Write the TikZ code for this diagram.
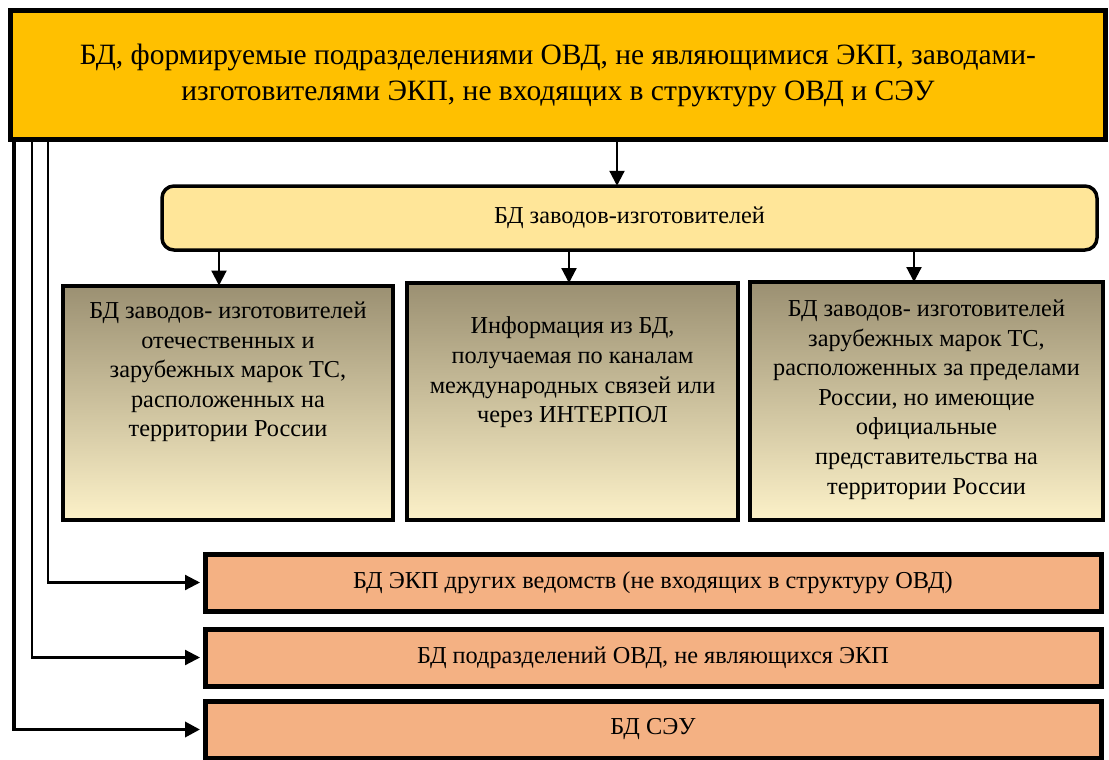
\documentclass[tikz,border=0pt]{standalone}
\usepackage{fontspec}
\newfontfamily\rufont{Liberation Serif}
\usetikzlibrary{arrows.meta}

\definecolor{topfill}{HTML}{FFC000}
\definecolor{midfill}{HTML}{FFE699}
\definecolor{bdfill}{HTML}{F4B183}
\definecolor{gradtop}{HTML}{9B9072}
\definecolor{gradbot}{HTML}{FCF1C8}

\tikzset{
  box/.style={draw, line width=4.5pt, inner sep=0pt, align=center},
  topbox/.style={box, line width=5pt, fill=topfill, minimum width=1095pt, minimum height=129pt,
    font=\rufont\fontsize{29.5}{36}\selectfont},
  midbox/.style={box, line width=3.5pt, rounded corners=12pt, fill=midfill,
    minimum width=935pt, minimum height=64pt, font=\rufont\fontsize{24.3}{29.5}\selectfont},
  gradbox/.style={box, line width=4pt, top color=gradtop, bottom color=gradbot},
  gradtxt/.style={align=center, inner sep=0pt, font=\rufont\fontsize{24.3}{29.6}\selectfont},
  bdbox/.style={box, line width=5pt, fill=bdfill, minimum width=896pt, minimum height=57pt,
    font=\rufont\fontsize{24.3}{29.5}\selectfont},
  arr/.style={line width=2.2pt, -{Triangle[length=15pt,width=15pt]}}
}

\begin{document}
\begin{tikzpicture}[x=1pt, y=-1pt]
  \useasboundingbox (0,0) rectangle (1109,760);

  \node[topbox] (top) at (558,75) {БД, формируемые подразделениями ОВД, не являющимися ЭКП, заводами-\\
    изготовителями ЭКП, не входящих в структуру ОВД и СЭУ};
  \node[midbox] (mid) at (629.5,218) {БД заводов-изготовителей};

  % three gradient boxes
  \node[gradbox, minimum width=330pt, minimum height=234pt] (A) at (228,402.5) {};
  \node[gradbox, minimum width=331pt, minimum height=237pt] (B) at (572.5,401.5) {};
  \node[gradbox, minimum width=353pt, minimum height=238pt] (C) at (926.5,401) {};
  \node[gradtxt] (At) at (228,372) {БД заводов- изготовителей\\ отечественных и\\
    зарубежных марок ТС,\\ расположенных на\\ территории России};
  \node[gradtxt] (Bt) at (572.5,372.5) {Информация из БД,\\ получаемая по каналам\\
    международных связей или\\ через ИНТЕРПОЛ};
  \node[gradtxt] (Ct) at (926.5,399.5) {БД заводов- изготовителей\\ зарубежных марок ТС,\\
    расположенных за пределами\\ России, но имеющие\\ официальные\\
    представительства на\\ территории России};

  \node[bdbox] (ekp) at (653,582.5) {БД ЭКП других ведомств (не входящих в структуру ОВД)};
  \node[bdbox] (ovd) at (653,657.5) {БД подразделений ОВД, не являющихся ЭКП};
  \node[bdbox] (seu) at (653,729.5) {БД СЭУ};

  \draw[arr] (top.south -| 617,0) -- ([yshift=-1.5pt]mid.north -| 617,0);
  \foreach \n/\x in {A/219, B/569, C/914}
    \draw[arr] (mid.south -| \x,0) -- ([yshift=-2pt]\n.north -| \x,0);

  %\draw (top.south) -- (mid.north);
  \draw[arr, shorten >=2.5pt] (top.south -| 48,0) |- (ekp.west);
  \draw[arr, shorten >=2.5pt] (top.south -| 32,0) |- (ovd.west);
  \draw[arr, line width=3.5pt, shorten >=2.5pt] (top.south -| 14,0) |- (seu.west);
\end{tikzpicture}
\end{document}
